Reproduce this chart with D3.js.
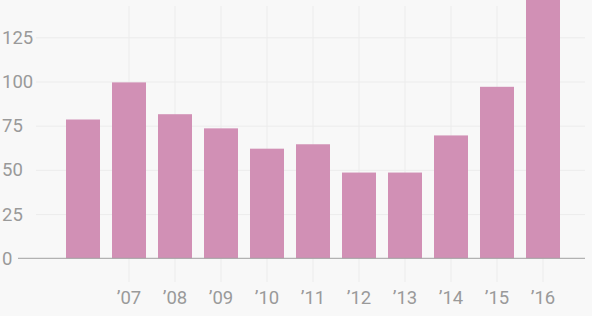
<!DOCTYPE html>
<html>
<head>
<meta charset="utf-8">
<script src="https://cdn.jsdelivr.net/npm/d3@7"></script>
<style>
    body { margin: 0; background: #f8f8f8; }
    svg { display: block; font-family: Roboto, sans-serif; }
</style>
</head>
<body>
<div id="chart"></div>
<script>
// years shown as bars, and the ones that get a tick label
var years = [2006, 2007, 2008, 2009, 2010, 2011, 2012, 2013, 2014, 2015, 2016]
var values = [78.5, 99.5, 81.5, 73.5, 62, 64.5, 48.5, 48.5, 69.5, 97, 160]
var tickYears = [2007, 2008, 2009, 2010, 2011, 2012, 2013, 2014, 2015, 2016]
var yTicks = [0, 25, 50, 75, 100, 125]

var width = 592, height = 316;

var svg = d3.select("#chart")
            .append("svg")
            .attr("width", width)
            .attr("height", height)
            .style("background", "#f8f8f8");

// band scale: step 46px, bar 34px
var pad = 12 / 46;
var x = d3.scaleBand()
          .domain(years)
          .range([54, 572])
          .paddingInner(pad)
          .paddingOuter(pad);

var y = d3.scaleLinear()
          .domain([0, 125])
          .range([258.3, 37.3]);

// horizontal grid
svg.append("g")
    .attr("class", "ygrid")
    .attr("transform", "translate(36,0)")
    .call(d3.axisLeft(y).tickValues(yTicks.slice(1)).tickSize(-(585 - 36)).tickFormat(""))
    .call(function(g){
        g.select(".domain").remove();
        g.selectAll("line").attr("stroke", "#ececec").attr("stroke-width", 1);
    });

// vertical grid at the labelled years
svg.append("g")
    .attr("class", "xgrid")
    .attr("transform", "translate(0,282)")
    .call(d3.axisBottom(x).tickValues(tickYears).tickSize(-276).tickFormat(""))
    .call(function(g){
        g.select(".domain").remove();
        g.selectAll("line").attr("stroke", "#ececec").attr("stroke-width", 1);
    });

// bars
svg.append("g")
    .selectAll("rect")
    .data(years)
    .enter()
    .append("rect")
    .attr("x", function(d){ return x(d); })
    .attr("width", x.bandwidth())
    .attr("y", function(d, i){ return y(values[i]); })
    .attr("height", function(d, i){ return y(0) - y(values[i]); })
    .attr("fill", "#d190b5");

// baseline
svg.append("line")
    .attr("x1", 18)
    .attr("x2", 585)
    .attr("y1", y(0))
    .attr("y2", y(0))
    .attr("stroke", "#a0a0a0")
    .attr("stroke-width", 1);

// y labels, left aligned
svg.append("g")
    .selectAll("text")
    .data(yTicks)
    .enter()
    .append("text")
    .attr("x", 2)
    .attr("y", function(d){ return y(d); })
    .attr("dy", "0.35em")
    .attr("font-size", 18.5)
    .attr("fill", "#9a9a9a")
    .text(function(d){ return d; });

// x labels
svg.append("g")
    .selectAll("text")
    .data(tickYears)
    .enter()
    .append("text")
    .attr("x", function(d){ return x(d) + x.bandwidth() / 2; })
    .attr("y", 298)
    .attr("dy", "0.35em")
    .attr("text-anchor", "middle")
    .attr("font-size", 18.5)
    .attr("fill", "#9a9a9a")
    .text(function(d){ return "\u2019" + String(d).slice(2); });
</script>
</body>
</html>
